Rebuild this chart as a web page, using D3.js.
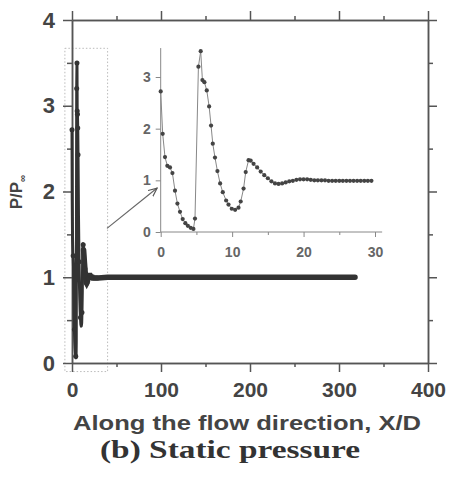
<!DOCTYPE html>
<html>
<head>
<meta charset="utf-8">
<script src="https://cdn.jsdelivr.net/npm/d3@7"></script>
<style>
  body { margin: 0; background: #fff; }
  svg text { font-family: "Liberation Sans", Arial, sans-serif; font-weight: bold; fill: #444; }
  .axis path, .axis line { stroke: #555; stroke-width: 1.5; }
  .inset path, .inset line { stroke: #888; stroke-width: 1; }
</style>
</head>
<body>
<div id="chart"></div>
<script>
// near-field data (shown in the inset)
var nearX = [0, 0.28, 0.6, 0.93, 1.3, 1.64, 2.0, 2.34, 2.7, 3.08, 3.45, 3.8, 4.2, 4.58, 4.8,
             5.28, 5.6, 5.84, 6.12, 6.45, 6.78, 7.05, 7.29, 7.6, 7.94, 8.32, 8.69, 9.16, 9.49, 9.95,
             10.42, 10.89, 11.2, 11.6, 11.9, 12.3, 12.6, 13.0, 13.5, 14.0, 14.5, 15.0, 15.5, 16.0,
             16.5, 17.0, 17.5, 18.0, 18.5, 19.0, 19.5, 20.0, 20.5, 21.0, 21.5, 22.0, 22.5, 23.0,
             23.5, 24.0, 24.5, 25.0, 25.5, 26.0, 26.5, 27.0, 27.5, 28.0, 28.5, 29.0, 29.5];
var nearP = [2.72, 1.9, 1.45, 1.28, 1.25, 1.14, 0.8, 0.55, 0.39, 0.25, 0.17, 0.12, 0.08, 0.06, 0.26,
             3.2, 3.5, 2.94, 2.9, 2.74, 2.43, 2.06, 1.71, 1.44, 1.18, 0.94, 0.77, 0.61, 0.53, 0.45,
             0.43, 0.47, 0.59, 0.84, 1.16, 1.39, 1.38, 1.32, 1.25, 1.17, 1.1, 1.04, 0.98, 0.94,
             0.93, 0.94, 0.96, 0.98, 0.99, 1.01, 1.02, 1.02, 1.02, 1.01, 1.0, 1.0, 1.0, 1.0,
             0.99, 0.99, 0.99, 0.99, 0.99, 0.99, 0.99, 0.99, 0.99, 0.99, 0.99, 0.99, 0.99];

// far-field data (only in the main plot)
var farX = [40, 50, 60, 70, 80, 90, 100, 110, 120, 130, 140, 150, 160, 170, 180, 190, 200,
            210, 220, 230, 240, 250, 260, 270, 280, 290, 300, 310, 318];
var farP = [1.0, 1.0, 1.0, 1.0, 1.0, 1.0, 1.0, 1.0, 1.0, 1.0, 1.0, 1.0, 1.0, 1.0, 1.0, 1.0, 1.0,
            1.0, 1.0, 1.0, 1.0, 1.0, 1.0, 1.0, 1.0, 1.0, 1.0, 1.0, 1.0];

var xTicks = [0, 100, 200, 300, 400];
var xMinor = [50, 150, 250, 350];
var yTicks = [0, 1, 2, 3, 4];
var yMinor = [0.5, 1.5, 2.5, 3.5];
var insetXTicks = [0, 10, 20, 30];
var insetXMinor = [5, 15, 25];
var insetYTicks = [0, 1, 2, 3];

// zoom box around the near field and the arrow to the inset
var boxX = [-8, 40];
var boxY = [-0.1, 3.67];
var arrowFrom = [39.3, 1.57];   // main-plot units
var arrowTo = [-0.5, 0.85];     // inset units

var nearData = nearX.map(function(x, i) { return {x: x, p: nearP[i]}; });
var farData = farX.map(function(x, i) { return {x: x, p: farP[i]}; });
var allData = nearData.concat(farData);

var W = 451, H = 477;
var svg = d3.select("#chart").append("svg").attr("width", W).attr("height", H);
var fmt = d3.format("d");

// main scales
var x = d3.scaleLinear().domain([0, 400]).range([72, 428]);
var y = d3.scaleLinear().domain([0, 4]).range([363, 20]);

// inset scales
var ix = d3.scaleLinear().domain([0, 30]).range([160.7, 375]);
var iy = d3.scaleLinear().domain([0, 3]).range([232, 77]);

// zoom box (dotted)
svg.append("rect")
    .attr("x", x(boxX[0])).attr("y", y(boxY[1]))
    .attr("width", x(boxX[1]) - x(boxX[0]))
    .attr("height", y(boxY[0]) - y(boxY[1]))
    .attr("fill", "none").attr("stroke", "#bbb")
    .attr("stroke-width", 1).attr("stroke-dasharray", "1.5,2");

// main axes
function axisG(cls) { return svg.append("g").attr("class", "axis " + cls); }

axisG("x").attr("transform", "translate(0," + y(0) + ")")
    .call(d3.axisBottom(x).tickValues(xTicks).tickFormat(fmt).tickSize(9).tickPadding(10).tickSizeOuter(0))
    .selectAll("text").style("font-size", "21px");
axisG("x").attr("transform", "translate(0," + y(0) + ")")
    .call(d3.axisBottom(x).tickValues(xMinor).tickSize(4).tickFormat("").tickSizeOuter(0));
axisG("x").attr("transform", "translate(0," + y(4) + ")")
    .call(d3.axisTop(x).tickValues(xTicks).tickSize(9).tickFormat("").tickSizeOuter(0));
axisG("x").attr("transform", "translate(0," + y(4) + ")")
    .call(d3.axisTop(x).tickValues(xMinor).tickSize(4).tickFormat("").tickSizeOuter(0));

axisG("y").attr("transform", "translate(" + x(0) + ",0)")
    .call(d3.axisLeft(y).tickValues(yTicks).tickFormat(fmt).tickSize(9).tickPadding(8).tickSizeOuter(0))
    .selectAll("text").style("font-size", "22px");
axisG("y").attr("transform", "translate(" + x(0) + ",0)")
    .call(d3.axisLeft(y).tickValues(yMinor).tickSize(5).tickFormat("").tickSizeOuter(0));
axisG("y").attr("transform", "translate(" + x(400) + ",0)")
    .call(d3.axisRight(y).tickValues(yTicks).tickSize(9).tickFormat("").tickSizeOuter(0));
axisG("y").attr("transform", "translate(" + x(400) + ",0)")
    .call(d3.axisRight(y).tickValues(yMinor).tickSize(5).tickFormat("").tickSizeOuter(0));

svg.selectAll(".axis .domain").attr("stroke", "#555");

// main line
var line = d3.line().x(function(d) { return x(d.x); }).y(function(d) { return y(d.p); });
svg.append("path").datum(allData)
    .attr("d", line).attr("fill", "none")
    .attr("stroke", "#333").attr("stroke-width", 3)
    .attr("stroke-linejoin", "round").attr("stroke-linecap", "round");
svg.append("path").datum(nearData.slice(37).concat(farData))
    .attr("d", line).attr("fill", "none")
    .attr("stroke", "#333").attr("stroke-width", 5.5)
    .attr("stroke-linecap", "round");
svg.selectAll(".mdot").data(nearData.filter(function(d, i) { return i % 4 === 0 || d.p > 2.6; }))
    .enter().append("circle")
    .attr("cx", function(d) { return x(d.x); })
    .attr("cy", function(d) { return y(d.p); })
    .attr("r", 2.5).attr("fill", "#333");

// inset axes
var inset = svg.append("g").attr("class", "inset");
inset.append("g").attr("transform", "translate(0," + iy(0) + ")")
    .call(d3.axisBottom(ix).tickValues(insetXTicks).tickFormat(fmt).tickSize(5).tickPadding(10).tickSizeOuter(0))
    .call(function(g) { g.select(".domain").attr("d", "M" + ix(0) + ",0H" + ix(31)); })
    .selectAll("text").style("font-size", "14px").style("fill", "#666");
inset.append("g").attr("transform", "translate(0," + iy(0) + ")")
    .call(d3.axisBottom(ix).tickValues(insetXMinor).tickSize(3).tickFormat("").tickSizeOuter(0))
    .select(".domain").remove();
inset.append("g").attr("transform", "translate(" + ix(0) + ",0)")
    .call(d3.axisLeft(iy).tickValues(insetYTicks).tickFormat(fmt).tickSize(5).tickPadding(5).tickSizeOuter(0))
    .call(function(g) { g.select(".domain").attr("d", "M0," + iy(0) + "V" + iy(3.56)); })
    .selectAll("text").style("font-size", "14px").style("fill", "#666");

// inset line
var iline = d3.line().x(function(d) { return ix(d.x); }).y(function(d) { return iy(d.p); });
inset.append("path").datum(nearData)
    .attr("d", iline).attr("fill", "none")
    .attr("stroke", "#666").attr("stroke-width", 1.2);
inset.selectAll(".idot").data(nearData).enter().append("circle")
    .attr("cx", function(d) { return ix(d.x); })
    .attr("cy", function(d) { return iy(d.p); })
    .attr("r", 2.1).attr("fill", "#444");

// arrow
svg.append("defs").append("marker")
    .attr("id", "arrow").attr("viewBox", "0 0 10 10")
    .attr("refX", 9).attr("refY", 5)
    .attr("markerWidth", 8).attr("markerHeight", 8)
    .attr("orient", "auto")
  .append("path").attr("d", "M0,1L9,5L0,9").attr("fill", "none")
    .attr("stroke", "#555").attr("stroke-width", 1.2);
svg.append("line")
    .attr("x1", x(arrowFrom[0])).attr("y1", y(arrowFrom[1]))
    .attr("x2", ix(arrowTo[0])).attr("y2", iy(arrowTo[1]))
    .attr("stroke", "#666").attr("stroke-width", 1.2)
    .attr("marker-end", "url(#arrow)");

// titles
svg.append("text")
    .attr("x", 247).attr("y", 430)
    .attr("text-anchor", "middle").style("font-size", "21px")
    .attr("textLength", 348).attr("lengthAdjust", "spacingAndGlyphs")
    .text("Along the flow direction, X/D");

var yl = svg.append("text")
    .attr("transform", "translate(22,192) rotate(-90)")
    .attr("text-anchor", "middle").style("font-size", "17px");
yl.append("tspan").text("P/P");
yl.append("tspan").attr("dy", 4).style("font-size", "10px").text("\u221e");

svg.append("text")
    .attr("x", 230).attr("y", 458)
    .attr("text-anchor", "middle")
    .style("font-family", "'Liberation Serif', 'Times New Roman', serif")
    .style("font-size", "26px").style("fill", "#333")
    .attr("textLength", 260).attr("lengthAdjust", "spacingAndGlyphs")
    .text("(b) Static pressure");
</script>
</body>
</html>
